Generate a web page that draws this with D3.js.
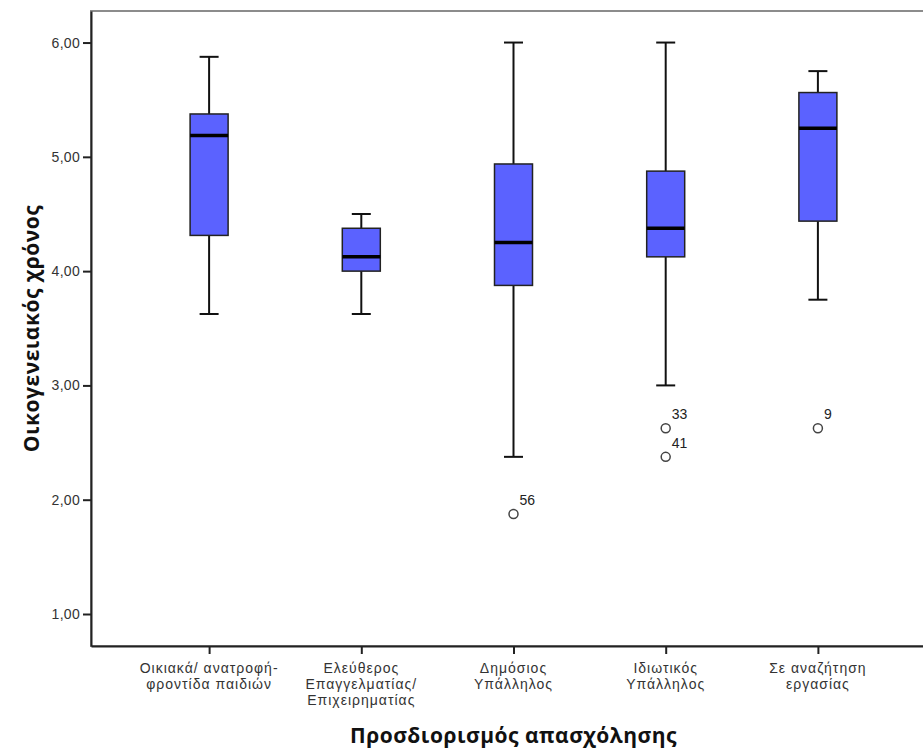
<!DOCTYPE html>
<html>
<head>
<meta charset="utf-8">
<script src="https://cdn.jsdelivr.net/npm/d3@7"></script>
<style>
  html, body { margin: 0; padding: 0; background: #fff; }
  svg { display: block; font-family: "Liberation Sans", Arial, sans-serif; }
</style>
</head>
<body>
<svg id="chart" width="923" height="752"></svg>
<script>
// Occupation groups (each label split over lines)
const categories = [
  ["Οικιακά/ ανατροφή-", "φροντίδα παιδιών"],
  ["Ελεύθερος", "Επαγγελματίας/", "Επιχειρηματίας"],
  ["Δημόσιος", "Υπάλληλος"],
  ["Ιδιωτικός", "Υπάλληλος"],
  ["Σε αναζήτηση", "εργασίας"]
];
// Five-number summaries per group
const whiskerLow  = [3.625, 3.625, 2.375, 3.000, 3.750];
const q1          = [4.3125, 4.000, 3.875, 4.125, 4.4375];
const median      = [5.1875, 4.125, 4.250, 4.375, 5.250];
const q3          = [5.375, 4.375, 4.9375, 4.875, 5.5625];
const whiskerHigh = [5.875, 4.500, 6.000, 6.000, 5.750];
// Outliers: group index, value, case number
const outlierGroup = [2, 3, 3, 4];
const outlierValue = [1.875, 2.625, 2.375, 2.625];
const outlierCase  = ["56", "33", "41", "9"];
// Y axis ticks
const yTicks = [1, 2, 3, 4, 5, 6];
const yTitle = "Οικογενειακός χρόνος";
const xTitle = "Προσδιορισμός απασχόλησης";

const svg = d3.select("#chart");
const plotLeft = 91, plotTop = 11, plotRight = 936, plotBottom = 646;
const labelFont = "14px";

const keys = categories.map((c, i) => i);
const x = d3.scalePoint().domain(keys).range([plotLeft, plotRight]).padding(0.776);
const y = d3.scaleLinear().domain([0.72, 6.276]).range([plotBottom, plotTop]);

// Plot frame
svg.append("rect")
  .attr("x", plotLeft).attr("y", plotTop)
  .attr("width", plotRight - plotLeft).attr("height", plotBottom - plotTop)
  .attr("fill", "none").attr("stroke", "#8c8c8c").attr("stroke-width", 2);

const fmt = v => d3.format(".2f")(v).replace(".", ",");

// Y axis
const yAxis = svg.append("g")
  .attr("transform", `translate(${plotLeft},0)`)
  .call(d3.axisLeft(y).tickValues(yTicks).tickFormat(fmt).tickSize(8).tickPadding(3).tickSizeOuter(0));
yAxis.select(".domain").attr("stroke", "#222").attr("stroke-width", 2);
yAxis.selectAll(".tick line").attr("stroke", "#222").attr("stroke-width", 2);
yAxis.selectAll(".tick text").attr("fill", "#333")
  .style("font-size", labelFont).style("letter-spacing", "0.3px")
  .style("font-family", "Liberation Sans, Arial, sans-serif");

// X axis
const xAxis = svg.append("g")
  .attr("transform", `translate(0,${plotBottom})`)
  .call(d3.axisBottom(x).tickSize(8).tickSizeOuter(0).tickFormat(""));
xAxis.select(".domain").attr("stroke", "#222").attr("stroke-width", 2);
xAxis.selectAll(".tick line").attr("stroke", "#222").attr("stroke-width", 2);

// Category labels
const catText = svg.append("g").selectAll("text").data(categories).join("text")
  .attr("x", (d, i) => x(i))
  .attr("y", plotBottom + 27)
  .attr("text-anchor", "middle")
  .attr("fill", "#333")
  .style("font-size", labelFont)
  .style("letter-spacing", "1px");
catText.selectAll("tspan").data(d => d).join("tspan")
  .attr("x", function() { return d3.select(this.parentNode).attr("x"); })
  .attr("dy", (d, j) => j === 0 ? 0 : 16)
  .text(d => d);

// Boxes
const boxW = 38, capW = 19;
const g = svg.append("g");
keys.forEach(i => {
  const cx = x(i);
  // whiskers
  g.append("line").attr("x1", cx).attr("x2", cx)
    .attr("y1", y(q3[i])).attr("y2", y(whiskerHigh[i]))
    .attr("stroke", "#111").attr("stroke-width", 2);
  g.append("line").attr("x1", cx).attr("x2", cx)
    .attr("y1", y(q1[i])).attr("y2", y(whiskerLow[i]))
    .attr("stroke", "#111").attr("stroke-width", 2);
  [whiskerHigh[i], whiskerLow[i]].forEach(v => {
    g.append("line").attr("x1", cx - capW / 2).attr("x2", cx + capW / 2)
      .attr("y1", y(v)).attr("y2", y(v))
      .attr("stroke", "#111").attr("stroke-width", 2);
  });
  // box
  g.append("rect")
    .attr("x", cx - boxW / 2).attr("width", boxW)
    .attr("y", y(q3[i])).attr("height", y(q1[i]) - y(q3[i]))
    .attr("fill", "#5b62ff").attr("stroke", "#222").attr("stroke-width", 1.5);
  // median
  g.append("line").attr("x1", cx - boxW / 2).attr("x2", cx + boxW / 2)
    .attr("y1", y(median[i])).attr("y2", y(median[i]))
    .attr("stroke", "#000").attr("stroke-width", 3.5);
});

// Outliers
outlierValue.forEach((v, k) => {
  const cx = x(outlierGroup[k]), cy = y(v);
  g.append("circle").attr("cx", cx).attr("cy", cy).attr("r", 4.5)
    .attr("fill", "#fff").attr("stroke", "#444").attr("stroke-width", 1.5);
  g.append("text").attr("x", cx + 6).attr("y", cy - 9)
    .attr("fill", "#222").style("font-size", labelFont).text(outlierCase[k]);
});

// Axis titles
svg.append("text")
  .attr("transform", `translate(39,${(plotTop + plotBottom) / 2}) rotate(-90)`)
  .attr("text-anchor", "middle")
  .attr("fill", "#111")
  .style("font-family", "'Open Sans', sans-serif")
  .style("font-size", "21px").style("font-weight", "bold")
  .style("letter-spacing", "0.5px")
  .text(yTitle);

svg.append("text")
  .attr("x", (plotLeft + plotRight) / 2).attr("y", 743)
  .attr("text-anchor", "middle")
  .attr("fill", "#111")
  .style("font-family", "'Open Sans', sans-serif")
  .style("font-size", "21px").style("font-weight", "bold")
  .style("letter-spacing", "0.5px")
  .text(xTitle);
</script>
</body>
</html>
